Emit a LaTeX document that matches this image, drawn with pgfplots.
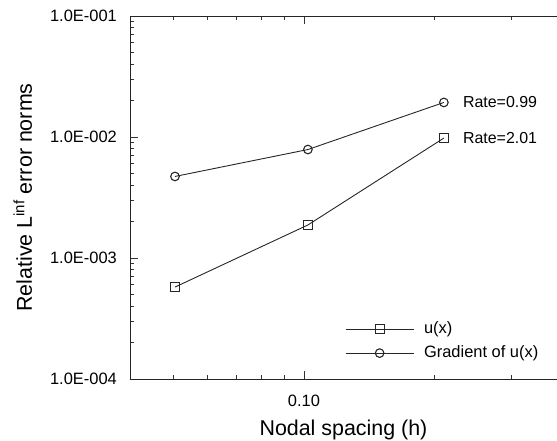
\documentclass[border=0pt]{standalone}
\usepackage{fontspec}
\setmainfont{Liberation Sans}
\usepackage{pgfplots}
\pgfplotsset{compat=1.18}
\begin{document}
\begin{tikzpicture}
\begin{axis}[
 name=ax,
 scale only axis,
 width=427bp, height=363bp,
 xmode=log, ymode=log,
 xmin=0.0398, xmax=0.382,
 ymin=1e-4, ymax=1e-1,
 axis x line*=box, axis y line*=left,
 axis line style={-, black!85, line width=0.8bp},
 tick align=inside,
 major tick length=8bp, minor tick length=4bp,
 tick style={black!80, line width=0.7bp},
 xtick={0.1}, xticklabels={0.10},
 minor xtick={0.05,0.06,0.07,0.08,0.09,0.2,0.3},
 ytick={1e-4,1e-3,1e-2,1e-1},
 yticklabels={1.0E-004,1.0E-003,1.0E-002,1.0E-001},
 minor ytick={2e-4,3e-4,4e-4,5e-4,6e-4,7e-4,8e-4,9e-4,2e-3,3e-3,4e-3,5e-3,6e-3,7e-3,8e-3,9e-3,2e-2,3e-2,4e-2,5e-2,6e-2,7e-2,8e-2,9e-2},
 tick label style={font=\fontsize{16.5}{19}\selectfont, inner sep=0pt},
 xticklabel shift=16bp, yticklabel shift=13bp,
 xlabel={Nodal spacing (h)},
 ylabel={Relative L\textsuperscript{inf} error norms},
 label style={font=\fontsize{21.5}{26}\selectfont, inner sep=0pt},
 xlabel style={at={(axis description cs:0.5,-0.157)}, anchor=base},
 ylabel style={at={(axis description cs:-0.2295,0.5)}, anchor=base},
 legend style={draw=none, fill=none, at={(axis description cs:0.5035,0.16)}, anchor=north west,
   inner sep=0pt, font=\fontsize{16.5}{19}\selectfont, row sep=8bp, column sep=10bp,
   nodes={inner sep=0pt, text height=12bp, text depth=4bp}},
 legend cell align=left,
 legend image code/.code={\draw[mark repeat=2,mark phase=2] plot coordinates {(0bp,0bp) (34bp,0bp) (68bp,0bp)};},
]
\addplot[color=black!85, line width=0.9bp, mark=square, mark size=4.5bp, mark options={solid, fill=white, line width=1.1bp}]
 coordinates {(0.0505,5.75e-4) (0.1021,1.875e-3) (0.2098,9.8e-3)};
\addlegendentry{u(x)}
\addplot[color=black!85, line width=0.9bp, mark=o, mark size=4.3bp, mark options={solid, fill=white, line width=1.1bp}]
 coordinates {(0.0505,4.72e-3) (0.1021,7.88e-3) (0.2098,1.93e-2)};
\addlegendentry{Gradient of u(x)}
\node[anchor=west, inner sep=0pt, xshift=19bp, font=\fontsize{16}{19}\selectfont] at (axis cs:0.2098,9.8e-3) {Rate=2.01};
\node[anchor=west, inner sep=0pt, xshift=19bp, font=\fontsize{16}{19}\selectfont] at (axis cs:0.2098,1.93e-2) {Rate=0.99};
\end{axis}
\pgfresetboundingbox
\path ([shift={(-130bp,-62bp)}]ax.south west) rectangle ([shift={(0bp,16bp)}]ax.north east);
\end{tikzpicture}
\end{document}
